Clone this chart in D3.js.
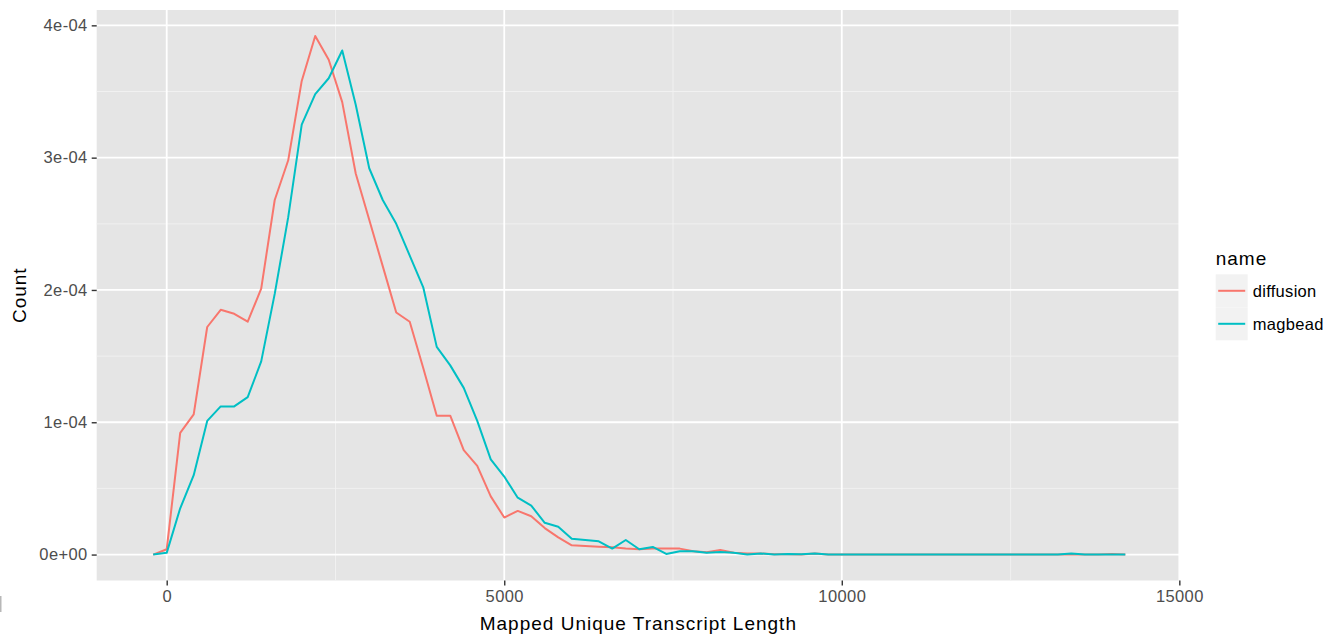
<!DOCTYPE html>
<html>
<head>
<meta charset="utf-8">
<script src="https://cdn.jsdelivr.net/npm/d3@7"></script>
<style>
  html, body { margin: 0; padding: 0; background: #fff; }
  svg { display: block; font-family: "Liberation Sans", Arial, Helvetica, sans-serif; }
</style>
</head>
<body>
<svg width="1326" height="634"></svg>
<script>
// bin centres (Mapped Unique Transcript Length)
const bins = [-200, 0, 200, 400, 600, 800, 1000, 1200, 1400, 1600, 1800, 2000, 2200, 2400,
  2600, 2800, 3000, 3200, 3400, 3600, 3800, 4000, 4200, 4400, 4600, 4800, 5000, 5200, 5400,
  5600, 5800, 6000, 6200, 6400, 6600, 6800, 7000, 7200, 7400, 7600, 7800, 8000, 8200, 8400,
  8600, 8800, 9000, 9200, 9400, 9600, 9800, 10000, 10200, 10400, 10600, 10800, 11000, 11200,
  11400, 11600, 11800, 12000, 12200, 12400, 12600, 12800, 13000, 13200, 13400, 13600, 13800,
  14000, 14200];

// density values, in units of 1e-4
const diffusion = [0, 0.04, 0.92, 1.06, 1.72, 1.85, 1.82, 1.76, 2.01, 2.68, 2.98, 3.58, 3.92, 3.74,
  3.42, 2.88, 2.53, 2.18, 1.83, 1.76, 1.41, 1.05, 1.05, 0.79, 0.67, 0.44, 0.28, 0.33, 0.29,
  0.20, 0.13, 0.07, 0.065, 0.06, 0.055, 0.045, 0.04, 0.045, 0.045, 0.045, 0.025, 0.018, 0.035, 0.013,
  0.008, 0.008, 0.003, 0.003, 0, 0.008, 0, 0, 0, 0, 0, 0, 0, 0,
  0, 0, 0, 0, 0, 0, 0, 0, 0, 0, 0, 0, 0,
  0.005, 0];

const magbead = [0, 0.013, 0.35, 0.60, 1.01, 1.12, 1.12, 1.19, 1.46, 1.97, 2.55, 3.25, 3.48, 3.60,
  3.81, 3.40, 2.92, 2.68, 2.50, 2.26, 2.02, 1.57, 1.43, 1.26, 1.01, 0.72, 0.59, 0.43, 0.37,
  0.24, 0.21, 0.12, 0.11, 0.10, 0.045, 0.11, 0.04, 0.058, 0.005, 0.025, 0.025, 0.013, 0.02, 0.013,
  0, 0.008, 0, 0.005, 0.003, 0.008, 0, 0, 0, 0, 0, 0, 0, 0,
  0, 0, 0, 0, 0, 0, 0, 0, 0, 0, 0.008, 0, 0,
  0, 0];

const seriesNames = ["diffusion", "magbead"];
const seriesColors = ["#F8766D", "#00BFC4"];
const xTicks = [0, 5000, 10000, 15000];
const xMinor = [2500, 7500, 12500];
const yTicks = [0, 1e-4, 2e-4, 3e-4, 4e-4];
const yMinor = [0.5e-4, 1.5e-4, 2.5e-4, 3.5e-4];

const svg = d3.select("svg");
const panel = { left: 96.7, right: 1180, top: 10, bottom: 580.5 };

// x 軸範圍 (照圖量)
const x = d3.scaleLinear().domain([-1037, 15010]).range([panel.left, panel.right]);

// y 軸用 ggplot 的 5% 擴展
const yMax = d3.max([...diffusion, ...magbead]) * 1e-4;
const yPad = yMax * 0.05;
const y = d3.scaleLinear().domain([-yPad, yMax + yPad]).range([panel.bottom, panel.top]);

const series = seriesNames.map((name, i) => ({
  name,
  color: seriesColors[i],
  values: bins.map((b, j) => ({ x: b, y: (i === 0 ? diffusion : magbead)[j] * 1e-4 }))
}));

// background
svg.append("rect")
  .attr("x", panel.left).attr("y", panel.top)
  .attr("width", panel.right - panel.left).attr("height", panel.bottom - panel.top)
  .attr("fill", "#E5E5E5");

const grid = svg.append("g");
grid.selectAll(".xminor").data(xMinor).join("line")
  .attr("x1", d => x(d)).attr("x2", d => x(d))
  .attr("y1", panel.top).attr("y2", panel.bottom)
  .attr("stroke", "#F2F2F2").attr("stroke-width", 0.9);
grid.selectAll(".yminor").data(yMinor).join("line")
  .attr("y1", d => y(d)).attr("y2", d => y(d))
  .attr("x1", panel.left).attr("x2", panel.right)
  .attr("stroke", "#F2F2F2").attr("stroke-width", 0.9);
grid.selectAll(".xmajor").data(xTicks).join("line")
  .attr("x1", d => x(d)).attr("x2", d => x(d))
  .attr("y1", panel.top).attr("y2", panel.bottom)
  .attr("stroke", "#fff").attr("stroke-width", 1.8);
grid.selectAll(".ymajor").data(yTicks).join("line")
  .attr("y1", d => y(d)).attr("y2", d => y(d))
  .attr("x1", panel.left).attr("x2", panel.right)
  .attr("stroke", "#fff").attr("stroke-width", 1.8);

// lines
const line = d3.line().x(d => x(d.x)).y(d => y(d.y));
svg.append("g").selectAll("path")
  .data(series)
  .join("path")
  .attr("fill", "none")
  .attr("stroke", d => d.color)
  .attr("stroke-width", 2)
  .attr("stroke-linejoin", "round")
  .attr("d", d => line(d.values));

// 1e-04 -> "1e-04"
function sciLabel(v) {
  if (v === 0) return "0e+00";
  const e = Math.floor(Math.log10(v) + 1e-9);
  const m = Math.round(v / Math.pow(10, e));
  return `${m}e${e < 0 ? "-" : "+"}${String(Math.abs(e)).padStart(2, "0")}`;
}

// axes
const xAxis = svg.append("g")
  .attr("transform", `translate(0,${panel.bottom})`)
  .call(d3.axisBottom(x).tickValues(xTicks).tickSize(5).tickPadding(5).tickFormat(d3.format("d")));
const yAxis = svg.append("g")
  .attr("transform", `translate(${panel.left},0)`)
  .call(d3.axisLeft(y).tickValues(yTicks).tickSize(5).tickPadding(4).tickFormat(sciLabel));

[xAxis, yAxis].forEach(a => {
  a.select(".domain").remove();
  a.selectAll(".tick line").attr("stroke", "#333").attr("stroke-width", 1.4);
  a.selectAll(".tick text")
    .attr("fill", "#4D4D4D")
    .style("font-size", "16.5px")
    .style("letter-spacing", "0.4px")
    .style("font-family", "'Liberation Sans', Arial, sans-serif");
});

// axis titles
svg.append("text")
  .attr("x", (panel.left + panel.right) / 2)
  .attr("y", 630)
  .attr("text-anchor", "middle")
  .style("font-size", "19px")
  .style("letter-spacing", "1px")
  .text("Mapped Unique Transcript Length");

svg.append("text")
  .attr("transform", `translate(26,${(panel.top + panel.bottom) / 2}) rotate(-90)`)
  .attr("text-anchor", "middle")
  .style("font-size", "19px")
  .style("letter-spacing", "1px")
  .text("Count");

// legend
const legend = svg.append("g").attr("transform", "translate(1215.7,0)");
legend.append("text")
  .attr("x", 0).attr("y", 265)
  .style("font-size", "19px")
  .style("letter-spacing", "1px")
  .text("name");

const keys = legend.selectAll(".key")
  .data(series)
  .join("g")
  .attr("class", "key")
  .attr("transform", (d, i) => `translate(0,${274.3 + i * 33})`);
keys.append("rect")
  .attr("width", 32).attr("height", 33)
  .attr("fill", "#F2F2F2");
keys.append("line")
  .attr("x1", 2.5).attr("x2", 29.5)
  .attr("y1", 16.5).attr("y2", 16.5)
  .attr("stroke", d => d.color)
  .attr("stroke-width", 2);
keys.append("text")
  .attr("x", 37).attr("y", 16.5)
  .attr("dy", "0.35em")
  .style("font-size", "16.5px")
  .style("letter-spacing", "0.3px")
  .text(d => d.name);

// 左下角的小灰線 (截圖殘留)
svg.append("rect")
  .attr("x", 0).attr("y", 596).attr("width", 1.5).attr("height", 16)
  .attr("fill", "#b8b8b8");
</script>
</body>
</html>
